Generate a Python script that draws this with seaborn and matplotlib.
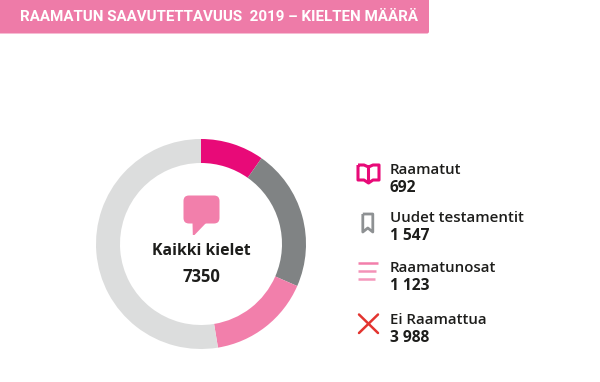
import matplotlib
matplotlib.use("Agg")
import matplotlib.pyplot as plt
import seaborn as sns
from matplotlib.patches import FancyBboxPatch, Polygon, PathPatch, Rectangle
from matplotlib.path import Path

categories = ["Raamatut", "Uudet testamentit", "Raamatunosat", "Ei Raamattua"]
value_labels = ["692", "1 547", "1 123", "3 988"]
# arc sizes as drawn in the picture (degrees), which differ slightly from the printed counts
arc_degrees = [35.2, 78.4, 57.1, 189.3]
colors = ["#E80A78", "#808384", "#F27FAB", "#DCDDDD"]
title = "RAAMATUN SAAVUTETTAVUUS  2019 – KIELTEN MÄÄRÄ"
center_label = "Kaikki kielet"
center_value = "7350"

sns.set_theme(style="white")
plt.rcParams["font.family"] = ["Open Sans", "DejaVu Sans"]
W, H = 600, 382
fig = plt.figure(figsize=(W / 100, H / 100), dpi=100, facecolor="white")

# donut
cx, cy, R = 201, 244, 105
ax = fig.add_axes([(cx - R) / W, 1 - (cy + R) / H, 2 * R / W, 2 * R / H])
ax.pie(arc_degrees, colors=colors, startangle=90, counterclock=False, radius=1,
       wedgeprops=dict(width=24 / 105, linewidth=0))
ax.set_xlim(-1, 1)
ax.set_ylim(-1, 1)

# overlay in pixel coordinates
ov = fig.add_axes([0, 0, 1, 1], facecolor="none")
ov.set_xlim(0, W)
ov.set_ylim(H, 0)
ov.axis("off")

ov.add_patch(FancyBboxPatch((-10, -10), 439, 43.5, boxstyle="round,pad=0,rounding_size=2",
                            fc="#EE7BA8", ec="none"))
ov.text(20, 17, title, color="white", fontsize=10.9, fontweight="bold",
        family="Roboto", va="center", ha="left")

ov.text(201, 251, center_label, color="#1d1d1b", fontsize=11.4, fontweight="bold",
        ha="center", va="center")
ov.text(201, 277, center_value, color="#1d1d1b", fontsize=12, fontweight="bold",
        ha="center", va="center")

# speech bubble
pink = colors[2]
ov.add_patch(FancyBboxPatch((183.5, 195.5), 36, 28, boxstyle="round,pad=0,rounding_size=5.5",
                            fc=pink, ec="none"))
ov.add_patch(Polygon([(192.5, 222), (207, 222), (194.5, 235), (192.8, 235)], fc=pink, ec="none"))

# legend text
ys = [(169.5, 188), (218, 236), (268, 285.5), (320, 337.5)]
for (y1, y2), c, v in zip(ys, categories, value_labels):
    ov.text(390, y1, c, color="#1d1d1b", fontsize=10.85, fontweight="semibold", va="center")
    ov.text(390, y2, v, color="#1d1d1b", fontsize=11.2, fontweight="bold", va="center")

# book icon
c0 = colors[0]
book = Path([(358, 165), (364, 165), (368.5, 167), (368.5, 183), (364, 180), (358, 180), (358, 165),
             (368.5, 167), (373, 165), (379, 165), (379, 180), (373, 180), (368.5, 183)],
            [1, 2, 2, 2, 2, 2, 2, 1, 2, 2, 2, 2, 2])
ov.add_patch(PathPatch(book, fc="none", ec=c0, lw=2.2, joinstyle="round"))

# bookmark icon
bm = Path([(362.8, 214), (372.8, 214), (372.8, 232), (367.8, 228), (362.8, 232), (362.8, 214)])
ov.add_patch(PathPatch(bm, fc="none", ec="#8E9193", lw=2, joinstyle="round"))

# lines icon
for y, x2, a in [(263, 378, 1), (270.8, 376, 0.85), (278.5, 375, 0.8)]:
    ov.plot([358, x2], [y, y], color=pink, lw=1.8, alpha=a, solid_capstyle="butt")

# cross icon
red = "#E3342F"
ov.plot([359, 378], [314.5, 333], color=red, lw=1.8)
ov.plot([378, 359], [314.5, 333], color=red, lw=1.8)

fig.savefig("out.png", dpi=100)
